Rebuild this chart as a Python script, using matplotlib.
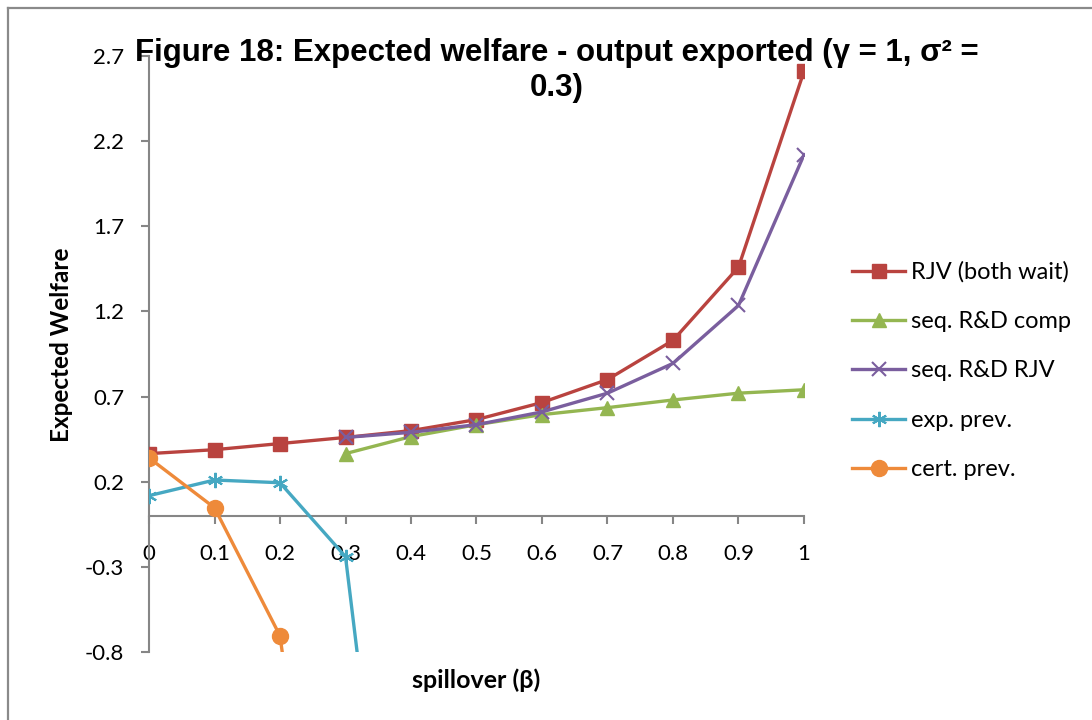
import matplotlib
matplotlib.use("Agg")
import matplotlib.pyplot as plt
import numpy as np
from matplotlib.lines import Line2D

# ---- data ----
beta = [0.0, 0.1, 0.2, 0.3, 0.4, 0.5, 0.6, 0.7, 0.8, 0.9, 1.0]
rjv_both_wait = [0.365, 0.388, 0.424, 0.46, 0.50, 0.565, 0.665, 0.80, 1.03, 1.46, 2.61]
seq_comp_x = [0.3, 0.4, 0.5, 0.6, 0.7, 0.8, 0.9, 1.0]
seq_comp = [0.365, 0.465, 0.535, 0.594, 0.635, 0.68, 0.72, 0.74]
seq_rjv_x = [0.3, 0.4, 0.5, 0.6, 0.7, 0.8, 0.9, 1.0]
seq_rjv = [0.46, 0.49, 0.535, 0.61, 0.72, 0.895, 1.235, 2.12]
exp_prev_x = [0.0, 0.1, 0.2, 0.3, 0.4]
exp_prev = [0.118, 0.21, 0.194, -0.24, -3.4]
cert_prev_x = [0.0, 0.1, 0.2, 0.3]
cert_prev = [0.34, 0.047, -0.705, -3.5]

series_names = ["RJV (both wait)", "seq. R&D comp", "seq. R&D RJV", "exp. prev.", "cert. prev."]
colors = ["#B9433F", "#94B651", "#7A5E9E", "#46A8C2", "#EE8A3A"]
yticks = [-0.8, -0.3, 0.2, 0.7, 1.2, 1.7, 2.2, 2.7]
xticks = [0, 0.1, 0.2, 0.3, 0.4, 0.5, 0.6, 0.7, 0.8, 0.9, 1]
xticklabels = ["0", "0.1", "0.2", "0.3", "0.4", "0.5", "0.6", "0.7", "0.8", "0.9", "1"]

plt.rcParams['font.family'] = ['Lato', 'DejaVu Sans']

fig = plt.figure(figsize=(10.92, 7.2), dpi=100)
W, H = 1092, 720
ax = fig.add_axes([149 / W, 1 - 652 / H, (804 - 149) / W, (652 - 56) / H])

for s in ['top', 'right']:
    ax.spines[s].set_visible(False)
ax.spines['bottom'].set_position(('data', 0))
ax.spines['bottom'].set_color('#868686')
ax.spines['left'].set_color('#868686')
ax.spines['bottom'].set_linewidth(1.5)
ax.spines['left'].set_linewidth(1.5)

lw = 2.4
ax.plot(beta, rjv_both_wait, color=colors[0], lw=lw, marker='s', ms=10.5, label=series_names[0], zorder=3)
ax.plot(seq_comp_x, seq_comp, color=colors[1], lw=lw, marker='^', ms=10.5, label=series_names[1], zorder=3)
ax.plot(seq_rjv_x, seq_rjv, color=colors[2], lw=lw, marker='x', ms=10, mew=1.5, label=series_names[2], zorder=3)
ax.plot(exp_prev_x, exp_prev, color=colors[3], lw=lw, marker=(6, 2, 0), ms=11, mew=1.5, label=series_names[3], zorder=3)
ax.plot(cert_prev_x, cert_prev, color=colors[4], lw=lw, marker='o', ms=11.5, label=series_names[4], zorder=3)

ax.set_xlim(0, 1)
ax.set_ylim(-0.8, 2.7)
ax.set_yticks(yticks)
ax.set_yticklabels([f"{v:g}" for v in yticks])
ax.set_xticks(xticks)
ax.set_xticklabels(xticklabels)
ax.tick_params(axis='y', direction='out', length=6, width=1.5, color='#868686', pad=12, labelsize=16)
ax.tick_params(axis='x', direction='out', length=6, width=1.5, color='#868686', pad=14, labelsize=16)
ax.patch.set_alpha(0)

ax.set_ylabel("Expected Welfare", fontsize=17.5, fontweight='bold')
ax.yaxis.set_label_coords(-0.116, 0.515)
ax.set_xlabel("spillover (β)", fontsize=18, fontweight='bold')
ax.xaxis.set_label_coords(0.5, -0.027)

fig.text(557 / W, 1 - 53 / H, "Figure 18: Expected welfare - output exported (γ = 1, σ² =",
         ha='center', va='center', fontsize=22.5, fontweight='bold', family=['Liberation Sans', 'DejaVu Sans'])
fig.text(557 / W, 1 - 88 / H, "0.3)", ha='center', va='center', fontsize=22.5, fontweight='bold',
         family=['Liberation Sans', 'DejaVu Sans'])

handles = [Line2D([0], [0], color=colors[0], lw=lw, marker='s', ms=10.5),
           Line2D([0], [0], color=colors[1], lw=lw, marker='^', ms=10.5),
           Line2D([0], [0], color=colors[2], lw=lw, marker='x', ms=10, mew=1.5),
           Line2D([0], [0], color=colors[3], lw=lw, marker=(6, 2, 0), ms=11, mew=1.5),
           Line2D([0], [0], color=colors[4], lw=lw, marker='o', ms=11.5)]
fig.legend(handles, series_names, loc='upper left', bbox_to_anchor=(831 / W, 1 - 240 / H),
           frameon=False, fontsize=17, handlelength=2.25, labelspacing=1.2, handletextpad=0.25)

# outer chart frame (left and top visible)
fig.add_artist(Line2D([8 / W, 8 / W], [0, 1 - 8 / H], color='#8a8a8a', lw=1.6, transform=fig.transFigure))
fig.add_artist(Line2D([8 / W, 1], [1 - 8 / H, 1 - 8 / H], color='#8a8a8a', lw=1.6, transform=fig.transFigure))

fig.savefig("out.png", dpi=100)
